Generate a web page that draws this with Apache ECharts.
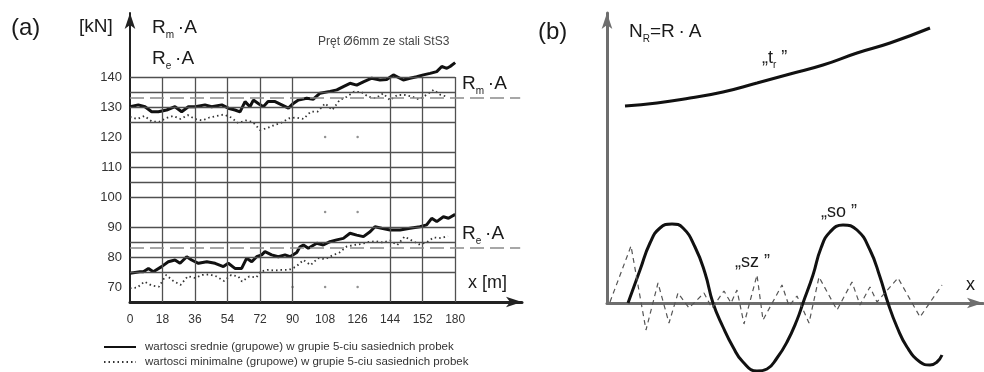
<!DOCTYPE html>
<html><head><meta charset="utf-8">
<script src="https://cdn.jsdelivr.net/npm/echarts@6/dist/echarts.min.js"></script>
<style>html,body{margin:0;padding:0;background:#fff}#c{width:984px;height:372px}</style>
</head><body><div id="c"></div>
<script>
// ---------- panel (a) data ----------
const xTicks = [0,18,36,54,72,90,108,126,144,162,180];
const xTickLabels = ['0','18','36','54','72','90','108','126','144','152','180'];
const yTicks = [70,80,90,100,110,120,130,140];
const hGrid = [140,135,130,125,115,110,105,100,90,85,80,75];
const vGrid = [18,36,54,72,90,144,162,180];
const gridDots = [[108,120],[126,120],[108,95],[126,95],[90,70],[108,70],[126,70]];
const rmRef = 133;
const reRef = 83;
const rmMean = [[0,130.1],[4.6,130.7],[8.3,130.1],[12,128.4],[15.7,128.4],[20.3,129],[24.9,130.1],[28.6,128.4],[32.3,130.1],[36,130.1],[41.5,130.7],[45.2,130.1],[50.8,130.7],[54.4,129.6],[58.1,129],[60.9,128.4],[63.7,131.8],[66.4,130.1],[68.3,132.3],[71,131.2],[73.8,130.1],[76.4,131.8],[80.3,131.8],[84,130.7],[87.7,129.6],[90.4,131.2],[93.2,132.3],[97.8,132.9],[101.5,132.6],[105.2,134.6],[110.7,135.2],[114.5,135.7],[118.1,136.8],[121.8,137.9],[125.5,137.3],[129.2,138.4],[133.8,139.6],[138.4,139],[142.1,139.2],[145.8,140.7],[151.3,139],[155,139.6],[158.7,140.1],[162.4,140.7],[166.1,141.2],[169.8,141.8],[172.6,143.5],[175.4,142.9],[177.2,143.5],[180,144.8]];
const rmMin = [[0,126.7],[4,126],[8,127],[12,125.2],[16,125],[20,126.3],[24,127],[28,126],[32,127.3],[36,126],[40,125.5],[44,126.5],[48,127],[52,127.5],[56,126.5],[60,124.6],[64,125.5],[68,125],[72,122.3],[76,123],[80,124],[84,124.8],[88,126.2],[92,126.5],[96,126],[100,128.4],[104,128.5],[108,131.2],[112,129],[116,132.3],[120,133.4],[124,135.1],[128,135],[132,133.4],[136,132.9],[140,134.5],[144,132.3],[148,134],[152,134],[156,133.5],[160,132.5],[164,134],[168,135.7],[172,134],[176,133.4]];
const reMean = [[0,74.6],[5.5,75.1],[7.4,75.1],[10.2,76.2],[12.9,75.1],[17.5,76.8],[21.2,78.4],[24.9,79],[27.7,77.9],[31.4,80.1],[34.1,79],[37.9,77.9],[42.5,78.4],[47.1,77.9],[51.7,76.8],[54.4,77.9],[58.1,76.2],[61.8,76.2],[64.6,79.6],[67.4,78.4],[70.1,80.1],[72.9,80.7],[74.7,81.8],[78.4,80.7],[82.1,80.1],[85.8,80.7],[88.6,80.1],[92.3,81.5],[94.1,83.4],[96,84],[98.7,82.9],[103.4,84.6],[107,84],[110.7,85.1],[114.4,85.7],[118.1,86.2],[121.8,87.9],[125.5,87.3],[129.2,86.8],[132.9,88.4],[135.6,90.1],[139.3,89.6],[144,89],[149.5,89],[155,89.6],[160.5,90.1],[164.2,90.7],[167,92.9],[169.8,91.8],[173.5,93.4],[176.3,92.9],[180,94.2]];
const reMin = [[0,69.6],[4,69.8],[8,71.8],[12,70.5],[16,70.1],[20,74],[24,72],[28,70.7],[32,73.6],[36,73],[40,74],[44,74.2],[48,73.5],[52,72],[56,74],[60,73.5],[62,71.8],[66,73.5],[70,73.2],[72,75.1],[76,75.7],[80,75.5],[84,75.7],[88,75.7],[92,76.8],[96,79],[100,77.3],[104,79.6],[108,79.3],[112,80.5],[116,81.5],[120,83.5],[124,84],[128,84.3],[132,85],[136,85.3],[140,84.8],[144,85.5],[148,84],[152,86.8],[156,85.5],[160,84.2],[164,84.8],[168,86.5],[172,86.3],[176,87]];
const legendMean = 'wartosci srednie (grupowe) w grupie 5-ciu sasiednich probek';
const legendMin = 'wartosci minimalne (grupowe) w grupie 5-ciu sasiednich probek';

// ---------- panel (b) data ----------
const trCurve = [[18,197],[50,200],[83,205],[116,211],[150,220],[183,229],[216,238],[250,250],[283,260],[323,275]];
const soCurve = [[21,0],[33,33],[43,60],[53,75],[65,79],[76,75],[88,56],[98,30],[106,0],[116,-24],[126,-44],[136,-59],[150,-68],[160,-66],[170,-55],[180,-39],[190,-17],[196,0],[206,28],[214,55],[223,71],[236,78],[250,73],[263,53],[273,26],[281,0],[290,-24],[300,-44],[313,-59],[323,-62],[330,-59],[335,-52]];
const szCurve = [[3,1],[24,57],[39,-27],[51,20],[62,-20],[71,10],[82,-5],[97,10],[105,-5],[117,12],[124,0],[130,13],[137,-21],[150,28],[156,-17],[175,18],[182,-3],[190,7],[202,-20],[212,26],[230,-7],[245,21],[253,-2],[263,16],[270,1],[291,25],[313,-14],[335,18]];

// ---------- axis ranges ----------
const aXMin = 0, aXFrame = 180, aXMax = 217, aYMin = 65, aYFrame = 140, aYMax = 161.33, refEnd = 216;
const bXMax = 376, bYMax = 290;

const FF = '"Liberation Sans", Arial, sans-serif';
const INK = '#1a1a1a';
function seg(a,b){ return [{coord:a},{coord:b}]; }
const gridLines = hGrid.map(v => seg([aXMin,v],[aXFrame,v])).concat(vGrid.map(x => seg([x,aYMin],[x,aYFrame])));
const refLines = [seg([aXMin,rmRef],[refEnd,rmRef]), seg([aXMin,reRef],[refEnd,reRef])];

function txt(x,y,text,size,fill){
  return {type:'text', x:x, y:y, silent:true, z:10,
    style:{text:text, fontSize:size, fontFamily:FF, fill:fill||INK, align:'left', verticalAlign:'middle'}};
}
function subTxt(x,y,parts,size){
  const t = parts.map(p => '{' + p[0] + '|' + p[1] + '}').join('');
  return {type:'text', x:x, y:y, silent:true, z:10,
    style:{text:t, align:'left', verticalAlign:'middle', fill:INK,
      rich:{
        a:{fontSize:size, fontFamily:FF, fill:INK, lineHeight:size+6},
        s:{fontSize:Math.round(size*0.55), fontFamily:FF, fill:INK, lineHeight:Math.round(size*0.55), verticalAlign:'bottom'}
      }}};
}

const arrowAxis = (color,width) => ({show:true, onZero:true, symbol:['none','arrow'], symbolSize:[8,16], lineStyle:{color:color, width:width}});
const minStyle = {color:'#333', width:1.8, type:[1.5,3]};

const option = {
  animation:false,
  backgroundColor:'#fff',
  color:['#111','#333'],
  grid:[
    {left:130, top:13, width:392, height:289},
    {left:607, top:13, width:376, height:290}
  ],
  xAxis:[
    {gridIndex:0, type:'value', min:aXMin, max:aXMax,
     axisLine:arrowAxis('#222',3), axisTick:{show:false}, splitLine:{show:false},
     axisLabel:{customValues:xTicks, formatter:v => xTickLabels[xTicks.indexOf(v)], fontSize:12, fontFamily:FF, color:'#333', margin:12}},
    {gridIndex:1, type:'value', min:0, max:bXMax,
     axisLine:arrowAxis('#6e6e6e',3), axisTick:{show:false}, splitLine:{show:false}, axisLabel:{show:false}}
  ],
  yAxis:[
    {gridIndex:0, type:'value', min:aYMin, max:aYMax,
     axisLine:arrowAxis('#222',2), axisTick:{show:false}, splitLine:{show:false},
     axisLabel:{customValues:yTicks, fontSize:13, fontFamily:FF, color:'#333', margin:8}},
    {gridIndex:1, type:'value', min:0, max:bYMax,
     axisLine:arrowAxis('#6e6e6e',3), axisTick:{show:false}, splitLine:{show:false}, axisLabel:{show:false}}
  ],
  legend:{
    data:[legendMean, legendMin], orient:'vertical', left:103, top:341, height:31, padding:0,
    itemWidth:32, itemHeight:10, itemGap:3,
    selectedMode:false, itemStyle:{opacity:0},
    textStyle:{fontSize:11.5, fontFamily:FF, color:'#333', padding:[0,0,0,4]}
  },
  series:[
    {type:'scatter', xAxisIndex:0, yAxisIndex:0, data:gridDots, symbolSize:2.5, itemStyle:{color:'#777'}, silent:true, z:1,
     markLine:{silent:true, symbol:['none','none'], label:{show:false}, lineStyle:{color:'#505050', width:1.3, type:'solid'}, data:gridLines}},
    {type:'scatter', xAxisIndex:0, yAxisIndex:0, data:[], silent:true, z:2,
     markLine:{silent:true, symbol:['none','none'], label:{show:false}, lineStyle:{color:'#8a8a8a', width:1.6, type:[14,6]}, data:refLines}},
    {name:legendMin, type:'line', xAxisIndex:0, yAxisIndex:0, data:rmMin, showSymbol:false, symbol:'none', z:3,
     itemStyle:{color:'#333'}, lineStyle:minStyle},
    {name:legendMin, type:'line', xAxisIndex:0, yAxisIndex:0, data:reMin, showSymbol:false, symbol:'none', z:3,
     itemStyle:{color:'#333'}, lineStyle:minStyle},
    {name:legendMean, type:'line', xAxisIndex:0, yAxisIndex:0, data:rmMean, showSymbol:false, symbol:'none', z:4,
     itemStyle:{color:'#111'}, lineStyle:{color:'#111', width:3}},
    {name:legendMean, type:'line', xAxisIndex:0, yAxisIndex:0, data:reMean, showSymbol:false, symbol:'none', z:4,
     itemStyle:{color:'#111'}, lineStyle:{color:'#111', width:3}},
    {type:'line', xAxisIndex:1, yAxisIndex:1, data:trCurve, smooth:true, showSymbol:false, symbol:'none', clip:false,
     lineStyle:{color:'#111', width:3}},
    {type:'line', xAxisIndex:1, yAxisIndex:1, data:soCurve, smooth:0.5, showSymbol:false, symbol:'none', clip:false,
     lineStyle:{color:'#111', width:3}},
    {type:'line', xAxisIndex:1, yAxisIndex:1, data:szCurve, smooth:false, showSymbol:false, symbol:'none', clip:false,
     lineStyle:{color:'#555', width:1.2, type:[5,4]}}
  ],
  graphic:[
    txt(11,28,'(a)',24),
    txt(79,27,'[kN]',19),
    subTxt(152,28,[['a','R'],['s','m'],['a','\u2009·A']],19),
    subTxt(152,59,[['a','R'],['s','e'],['a','\u2009·A']],19),
    txt(318,42,'Pręt Ø6mm ze stali StS3',12,'#444'),
    subTxt(462,84,[['a','R'],['s','m'],['a','\u2009·A']],19),
    subTxt(462,234,[['a','R'],['s','e'],['a','\u2009·A']],19),
    txt(468,283,'x [m]',18),
    txt(538,32,'(b)',24),
    subTxt(629,32,[['a','N'],['s','R'],['a','=R\u2009·\u2009A']],19),
    subTxt(762,58,[['a','\u201Et'],['s','r'],['a',' \u201D']],18),
    subTxt(821,212,[['a','\u201Eso \u201D']],18),
    subTxt(735,262,[['a','\u201Esz \u201D']],18),
    txt(966,285,'x',18)
  ]
};
const chart = echarts.init(document.getElementById('c'));
chart.setOption(option);
</script>
</body></html>
